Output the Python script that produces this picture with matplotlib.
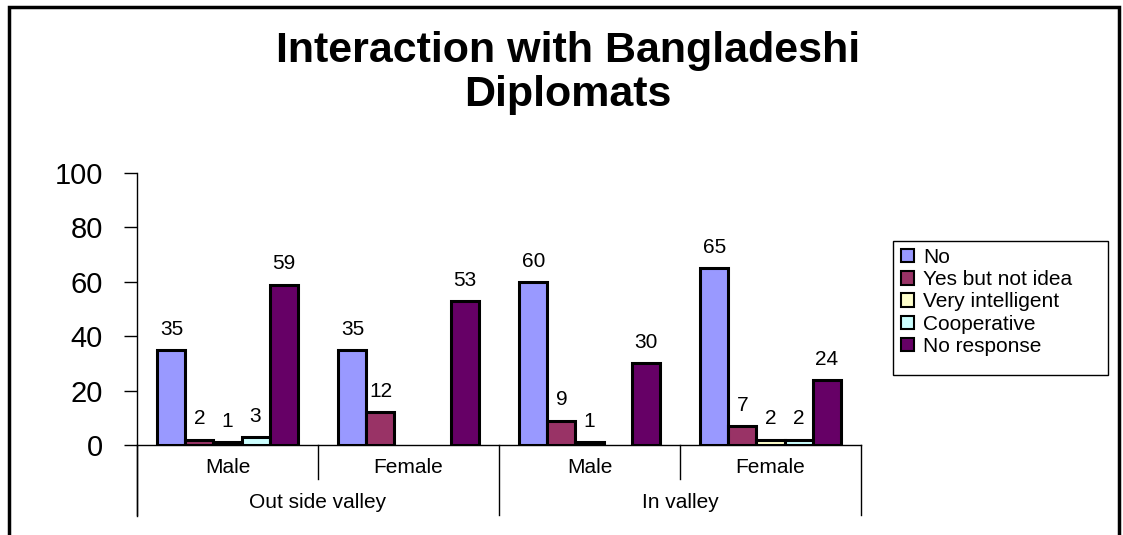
import numpy as np
import matplotlib.pyplot as plt
from matplotlib.patches import Rectangle

plt.rcParams['font.family'] = ['Liberation Sans', 'DejaVu Sans']

groups = ["Out side valley", "In valley"]
sub_labels = ["Male", "Female", "Male", "Female"]
series = ["No", "Yes but not idea", "Very intelligent", "Cooperative", "No response"]
no_vals = [35, 35, 60, 65]
yes_vals = [2, 12, 9, 7]
very_vals = [1, 0, 1, 2]
coop_vals = [3, 0, 0, 2]
noresp_vals = [59, 53, 30, 24]
colors = ["#9999FF", "#993366", "#FFFFCC", "#CCFFFF", "#660066"]

data = [no_vals, yes_vals, very_vals, coop_vals, noresp_vals]

W, H = 1123, 535
fig = plt.figure(figsize=(W / 100, H / 100), dpi=100)
ax = fig.add_axes([137 / W, (H - 445) / H, (861 - 137) / W, 272 / H])

x = np.arange(len(sub_labels))
bw = 0.155
for i, (vals, name, col) in enumerate(zip(data, series, colors)):
    vals = np.array(vals, dtype=float)
    xs = x + (i - 2) * bw
    keep = vals > 0  # zero values have no bar and no label
    bars = ax.bar(xs[keep], vals[keep], width=bw, color=col, edgecolor="black",
                  linewidth=2.2, label=name)
    ax.bar_label(bars, labels=[f"{v:.0f}" for v in vals[keep]], padding=8, fontsize=15)

ax.set_xlim(-0.5, 3.5)
ax.set_ylim(0, 100)
ax.set_yticks([0, 20, 40, 60, 80, 100])
ax.tick_params(axis="y", direction="out", length=9.5, width=1, pad=15, labelsize=21)
ax.set_xticks([])
for s in ["top", "right"]:
    ax.spines[s].set_visible(False)
ax.spines["left"].set_bounds(-26, 100)
ax.spines["left"].set_linewidth(1)
ax.spines["bottom"].set_linewidth(1)

# multi-level category axis
trans = ax.get_xaxis_transform()
for xd, depth in zip([-0.5, 0.5, 1.5, 2.5, 3.5], [-0.257, -0.125, -0.257, -0.125, -0.257]):
    ax.plot([xd, xd], [0, depth], color="black", lw=1, transform=trans, clip_on=False)
for xi, lab in zip(x, sub_labels):
    ax.text(xi, -0.083, lab, transform=trans, ha="center", va="center", fontsize=15)
for gi, g in enumerate(groups):
    ax.text(2 * gi + 0.5, -0.213, g, transform=trans, ha="center", va="center", fontsize=15)

# legend entries, with the box drawn separately
leg = fig.legend(loc="upper left", bbox_to_anchor=(897 / W, (H - 244) / H),
                 fontsize=15, frameon=False,
                 handlelength=0.6, handleheight=0.6, handletextpad=0.45,
                 labelspacing=0.15, borderpad=0.2, borderaxespad=0)
for h in leg.legend_handles:
    h.set_linewidth(1.5)
fig.patches.append(Rectangle((893 / W, (H - 375) / H), 215 / W, 134 / H, transform=fig.transFigure,
                             fill=False, edgecolor="black", linewidth=1))

fig.text(568 / W, (H - 73) / H, "Interaction with Bangladeshi\nDiplomats", ha="center",
         va="center", fontsize=31, fontweight="bold", linespacing=1.12)

fig.patches.append(Rectangle((9 / W, -0.05), 1110 / W, 1.05 - 7 / H, transform=fig.transFigure,
                             fill=False, edgecolor="black", linewidth=2.5))

fig.savefig("out.png", dpi=100)
